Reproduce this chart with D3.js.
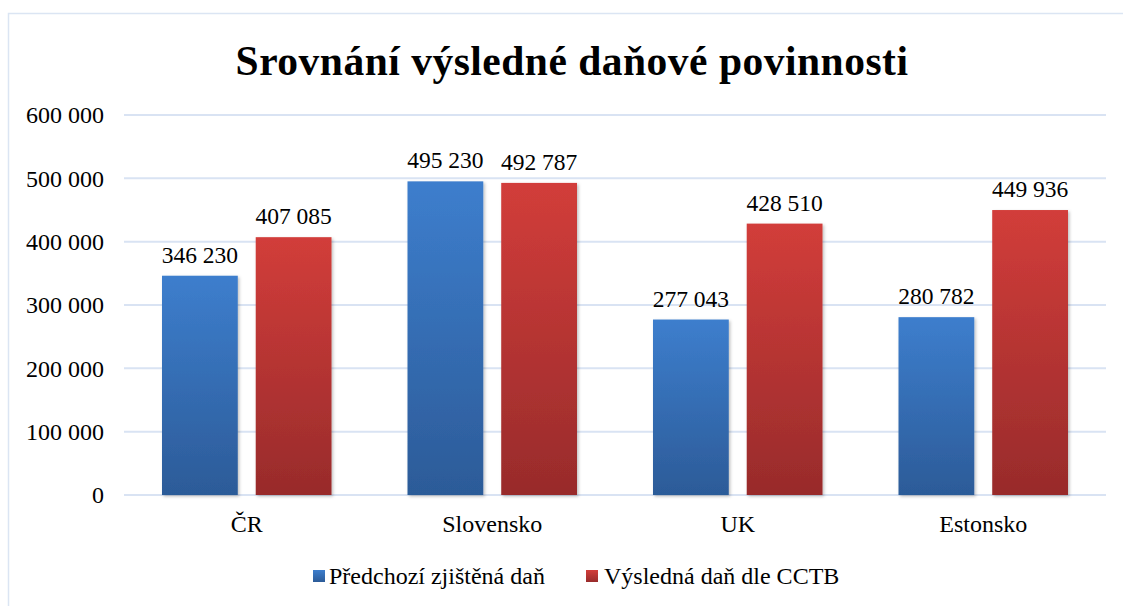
<!DOCTYPE html>
<html>
<head>
<meta charset="utf-8">
<script src="https://cdn.jsdelivr.net/npm/d3@7"></script>
<style>
  body { margin: 0; background: #fff; }
  svg text { font-family: "Liberation Serif", "Times New Roman", serif; }
</style>
</head>
<body>
<svg class="chart"></svg>
<script>
/* Chart data */
const categories = ["ČR", "Slovensko", "UK", "Estonsko"];
const seriesNames = ["Předchozí zjištěná daň", "Výsledná daň dle CCTB"];
const previousTax = [346230, 495230, 277043, 280782];
const cctbTax = [407085, 492787, 428510, 449936];
const yTicks = [0, 100000, 200000, 300000, 400000, 500000, 600000];

const width = 1123;
const height = 606;
const margin = { top: 115, right: 17, bottom: 111, left: 124 };
const serif = '"Liberation Serif", "Times New Roman", serif';

const svg = d3.select('.chart')
  .attr('width', width)
  .attr('height', height);

/* gradients for bars */
const defs = svg.append('defs');
const gradColors = [["#3d7ecd", "#2c5b98"], ["#d23d3a", "#982b2b"]];
gradColors.forEach(function (c, i) {
  const g = defs.append('linearGradient')
    .attr('id', 'grad' + i)
    .attr('x1', 0).attr('y1', 0).attr('x2', 0).attr('y2', 1);
  g.append('stop').attr('offset', '0%').attr('stop-color', c[0]);
  g.append('stop').attr('offset', '100%').attr('stop-color', c[1]);
});
const shadow = defs.append('filter').attr('id', 'shadow')
  .attr('x', '-10%').attr('y', '-5%').attr('width', '125%').attr('height', '115%');
shadow.append('feDropShadow')
  .attr('dx', 1.5).attr('dy', 1.5).attr('stdDeviation', 1.5)
  .attr('flood-color', '#000').attr('flood-opacity', 0.25);

/* chart border */
svg.append('rect')
  .attr('x', 8.5).attr('y', 13.5)
  .attr('width', width + 20).attr('height', height + 20)
  .attr('fill', 'none')
  .attr('stroke', '#dbe5f3')
  .attr('stroke-width', 1.5);

/* title */
svg.append('text')
  .attr('x', 572)
  .attr('y', 75)
  .attr('text-anchor', 'middle')
  .style('font-family', serif)
  .style('font-size', '41.5px')
  .style('font-weight', 'bold')
  .style('letter-spacing', '0.5px')
  .text('Srovnání výsledné daňové povinnosti');

const x0 = d3.scaleBand()
  .domain(categories)
  .range([margin.left, width - margin.right]);

const x1 = d3.scaleBand()
  .domain([0, 1])
  .range([38, x0.bandwidth() - 38])
  .paddingInner(18 / 94);

const y = d3.scaleLinear()
  .domain([0, 600000])
  .range([height - margin.bottom, margin.top]);

const fmt = function (v) {
  return d3.format(',')(v).replace(/,/g, ' ');
};

/* gridlines */
svg.append('g')
  .selectAll('line')
  .data(yTicks)
  .enter().append('line')
  .attr('x1', margin.left)
  .attr('x2', width - margin.right)
  .attr('y1', d => y(d))
  .attr('y2', d => y(d))
  .attr('stroke', '#d9e3f3')
  .attr('stroke-width', 2);

/* y axis */
const yAxis = svg.append('g')
  .attr('transform', 'translate(104,0)')
  .call(d3.axisLeft(y).tickValues(yTicks).tickFormat(fmt).tickSize(0).tickPadding(0))
  .attr('font-family', serif);
yAxis.select('.domain').remove();
yAxis.selectAll('text')
  .style('font-size', '24px')
  .style('font-family', serif)
  .attr('fill', '#000');

/* x axis labels */
const xAxis = svg.append('g')
  .attr('transform', 'translate(0,' + (height - margin.bottom) + ')')
  .call(d3.axisBottom(x0).tickSize(0).tickPadding(20))
  .attr('font-family', serif);
xAxis.select('.domain').remove();
xAxis.selectAll('text')
  .style('font-size', '24px')
  .style('font-family', serif)
  .attr('fill', '#000');

/* bars */
const rows = categories.map(function (c, i) {
  return { cat: c, values: [previousTax[i], cctbTax[i]] };
});

const groups = svg.append('g')
  .selectAll('g')
  .data(rows)
  .enter().append('g')
  .attr('transform', d => 'translate(' + x0(d.cat) + ',0)');

groups.selectAll('rect')
  .data(d => d.values.map((v, i) => ({ v: v, s: i })))
  .enter().append('rect')
  .attr('x', d => x1(d.s))
  .attr('width', x1.bandwidth())
  .attr('y', d => y(d.v))
  .attr('height', d => y(0) - y(d.v))
  .attr('fill', d => 'url(#grad' + d.s + ')')
  .attr('filter', 'url(#shadow)');

groups.selectAll('text')
  .data(d => d.values.map((v, i) => ({ v: v, s: i })))
  .enter().append('text')
  .attr('x', d => x1(d.s) + x1.bandwidth() / 2)
  .attr('y', d => y(d.v) - 13)
  .attr('text-anchor', 'middle')
  .style('font-family', serif)
  .style('font-size', '23.5px')
  .text(d => fmt(d.v));

/* legend */
const legendX = [313, 586];
const legend = svg.append('g')
  .selectAll('g')
  .data(seriesNames)
  .enter().append('g')
  .attr('transform', (d, i) => 'translate(' + legendX[i] + ',570)');

legend.append('rect')
  .attr('width', 12).attr('height', 12)
  .attr('fill', (d, i) => 'url(#grad' + i + ')');

legend.append('text')
  .attr('x', (d, i) => i === 0 ? 16 : 18)
  .attr('y', 14)
  .style('font-family', serif)
  .style('font-size', '24px')
  .text(d => d);
</script>
</body>
</html>
